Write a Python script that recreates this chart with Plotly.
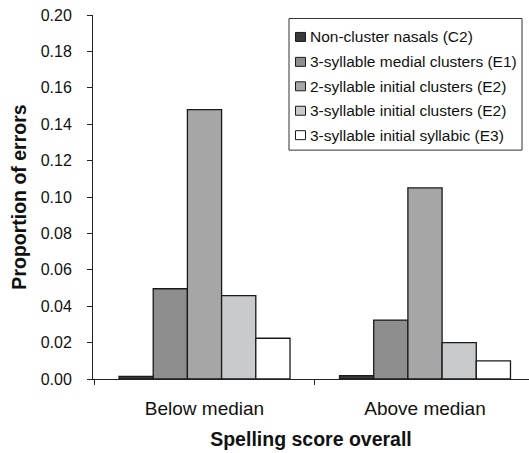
import plotly.graph_objects as go

categories = ["Below median", "Above median"]
series_names = [
    "Non-cluster nasals (C2)",
    "3-syllable medial clusters (E1)",
    "2-syllable initial clusters (E2)",
    "3-syllable initial clusters (E2)",
    "3-syllable initial syllabic (E3)",
]
non_cluster_nasals = [0.0014, 0.0019]
medial_clusters_3syl = [0.0496, 0.0324]
initial_clusters_2syl = [0.148, 0.105]
initial_clusters_3syl = [0.0458, 0.020]
initial_syllabic_3syl = [0.0224, 0.010]
y_ticks = [0.00, 0.02, 0.04, 0.06, 0.08, 0.10, 0.12, 0.14, 0.16, 0.18, 0.20]

series_values = [
    non_cluster_nasals,
    medial_clusters_3syl,
    initial_clusters_2syl,
    initial_clusters_3syl,
    initial_syllabic_3syl,
]
fills = ["#393939", "#8e8e8e", "#a6a6a6", "#c9cacb", "#ffffff"]

FONT = "Arial, Liberation Sans, Helvetica, sans-serif"
W, H = 529, 453
M_L, M_R, M_T, M_B = 93, 0, 14.5, 73.5
PW, PH = W - M_L - M_R, H - M_T - M_B


def px_to_paper(px, py):
    return (px - M_L) / PW, (H - M_B - py) / PH


fig = go.Figure()
for name, vals, col in zip(series_names, series_values, fills):
    fig.add_trace(go.Bar(
        x=categories, y=vals, name=name,
        marker=dict(color=col, line=dict(color="#1a1a1a", width=1.3)),
        showlegend=False,
    ))

# boxed key in the upper right corner
shapes = []
annotations = []
bx0, by0 = px_to_paper(289, 18)
bx1, by1 = px_to_paper(522, 150)
shapes.append(dict(type="rect", xref="paper", yref="paper",
                   x0=bx0, y0=by1, x1=bx1, y1=by0,
                   line=dict(color="#333333", width=1), fillcolor="white", layer="above"))
row_y = [36.5, 61.5, 86, 110.5, 135]
for name, col, ry in zip(series_names, fills, row_y):
    sx0, sy0 = px_to_paper(295.5, ry - 4.5)
    sx1, sy1 = px_to_paper(305.5, ry + 4.5)
    shapes.append(dict(type="rect", xref="paper", yref="paper",
                       x0=sx0, y0=sy1, x1=sx1, y1=sy0,
                       line=dict(color="#1a1a1a", width=1), fillcolor=col, layer="above"))
    tx, ty = px_to_paper(308, ry)
    annotations.append(dict(xref="paper", yref="paper", x=tx, y=ty,
                            xanchor="left", yanchor="middle", showarrow=False,
                            text=name, font=dict(family=FONT, size=15.5, color="#111111")))

fig.update_layout(
    width=W, height=H,
    margin=dict(l=M_L, r=M_R, t=M_T, b=M_B, pad=0),
    paper_bgcolor="white", plot_bgcolor="white",
    barmode="group", bargap=0.2245, bargroupgap=0,
    font=dict(family=FONT, size=16, color="#111111"),
    showlegend=False,
    shapes=shapes,
    annotations=annotations,
    xaxis=dict(
        range=[-0.5057, 1.4717], showline=True, linecolor="#222222", linewidth=1,
        ticks="outside", tickson="boundaries", ticklen=5, tickcolor="#222222",
        showgrid=False, zeroline=False,
        tickfont=dict(size=19), ticklabelstandoff=12,
        title=dict(text="<b>Spelling score overall</b>", font=dict(size=19.5), standoff=14),
    ),
    yaxis=dict(
        range=[0, 0.2], tickvals=y_ticks, tickformat=".2f",
        showline=True, linecolor="#222222", linewidth=1,
        ticks="outside", ticklen=5, tickcolor="#222222",
        showgrid=False, zeroline=False,
        tickfont=dict(size=16), ticklabelstandoff=12,
        title=dict(text="<b>Proportion of errors</b>", font=dict(size=19.5), standoff=8),
    ),
)

fig.write_html("out.html")
